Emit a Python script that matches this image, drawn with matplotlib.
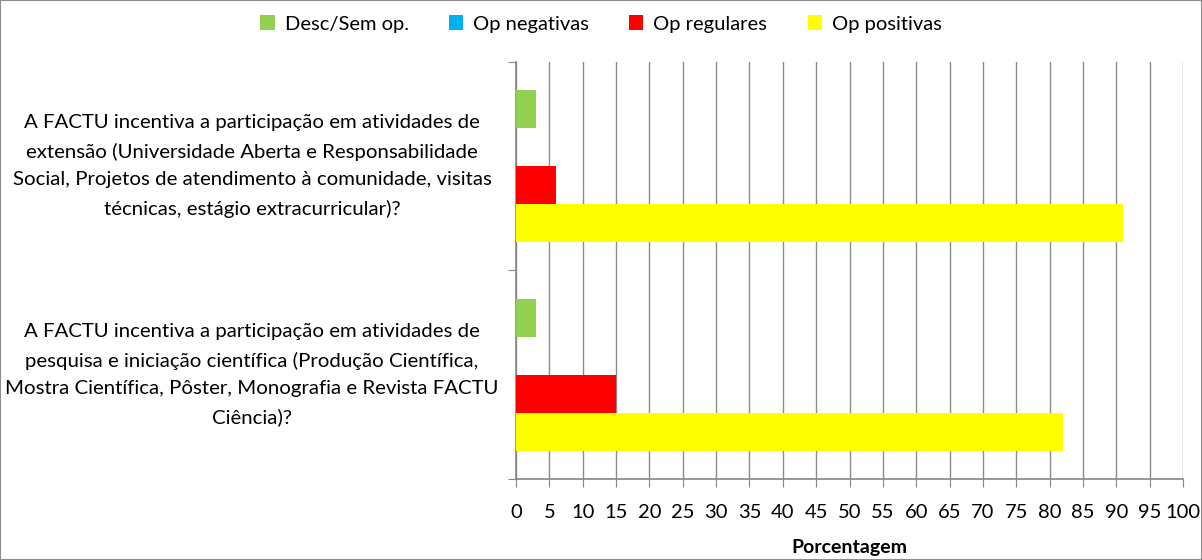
import numpy as np
import matplotlib.pyplot as plt
from matplotlib.patches import Rectangle
from matplotlib.transforms import blended_transform_factory

plt.rcParams['font.family'] = ['Lato', 'DejaVu Sans']

# dados (porcentagem)
categorias = [
    "A FACTU incentiva a participação em atividades de\n"
    "extensão (Universidade Aberta e Responsabilidade\n"
    "Social, Projetos de atendimento à comunidade, visitas\n"
    "técnicas, estágio extracurricular)?",
    "A FACTU incentiva a participação em atividades de\n"
    "pesquisa e iniciação científica (Produção Científica,\n"
    "Mostra Científica, Pôster, Monografia e Revista FACTU\n"
    "Ciência)?",
]
series = ['Desc/Sem op.', 'Op negativas', 'Op regulares', 'Op positivas']
desc_sem_op = [3, 3]
op_negativas = [0, 0]
op_regulares = [6, 15]
op_positivas = [91, 82]
cores = ['#92D050', '#00B0F0', '#FF0000', '#FFFF00']

valores = [desc_sem_op, op_negativas, op_regulares, op_positivas]

fig = plt.figure(figsize=(12.02, 5.6), dpi=100)
ax = fig.add_axes([0.4293, 0.1446, 0.5549, 0.7452])

y = np.arange(len(categorias))
h = 0.182
offsets = [-1.5, -0.5, 0.5, 1.5]
for vals, nome, cor, off in zip(valores, series, cores, offsets):
    ax.barh(y + off * h, vals, h, label=nome, color=cor, zorder=3)

ax.set_xlim(0, 100)
ax.set_ylim(1.5, -0.5)
ax.set_xticks(np.arange(0, 101, 5))
ax.set_yticks([-0.5, 0.5, 1.5])
ax.set_yticklabels([])
ax.tick_params(axis='x', direction='out', length=6, color='#868686',
               labelsize=14.5, pad=12)
ax.tick_params(axis='y', direction='out', length=6, color='#868686')
ax.grid(axis='x', color='#8c8c8c', linewidth=1.0, zorder=0)
ax.set_axisbelow(True)
for s in ['top', 'right']:
    ax.spines[s].set_visible(False)
for s in ['left', 'bottom']:
    ax.spines[s].set_color('#868686')
    ax.spines[s].set_linewidth(1.2)

ax.set_xlabel('Porcentagem', fontsize=14, fontweight='bold', labelpad=13)

tr = blended_transform_factory(fig.transFigure, ax.transData)
for yi, txt in zip(y, categorias):
    ax.text(252 / 1202, yi, txt, transform=tr, ha='center', va='center',
            multialignment='center', fontsize=14.7, linespacing=1.75)

fig.legend(loc='center', bbox_to_anchor=(0.5, 1 - 24 / 560), ncol=4,
           frameon=False, fontsize=14.5, handlelength=0.7, handleheight=0.7,
           handletextpad=0.5, columnspacing=2.0)

fig.patches.append(Rectangle((0, 0), 1, 1, transform=fig.transFigure,
                             fill=False, edgecolor='#8c8c8c', linewidth=1.5))

fig.savefig('out.png', dpi=100)
